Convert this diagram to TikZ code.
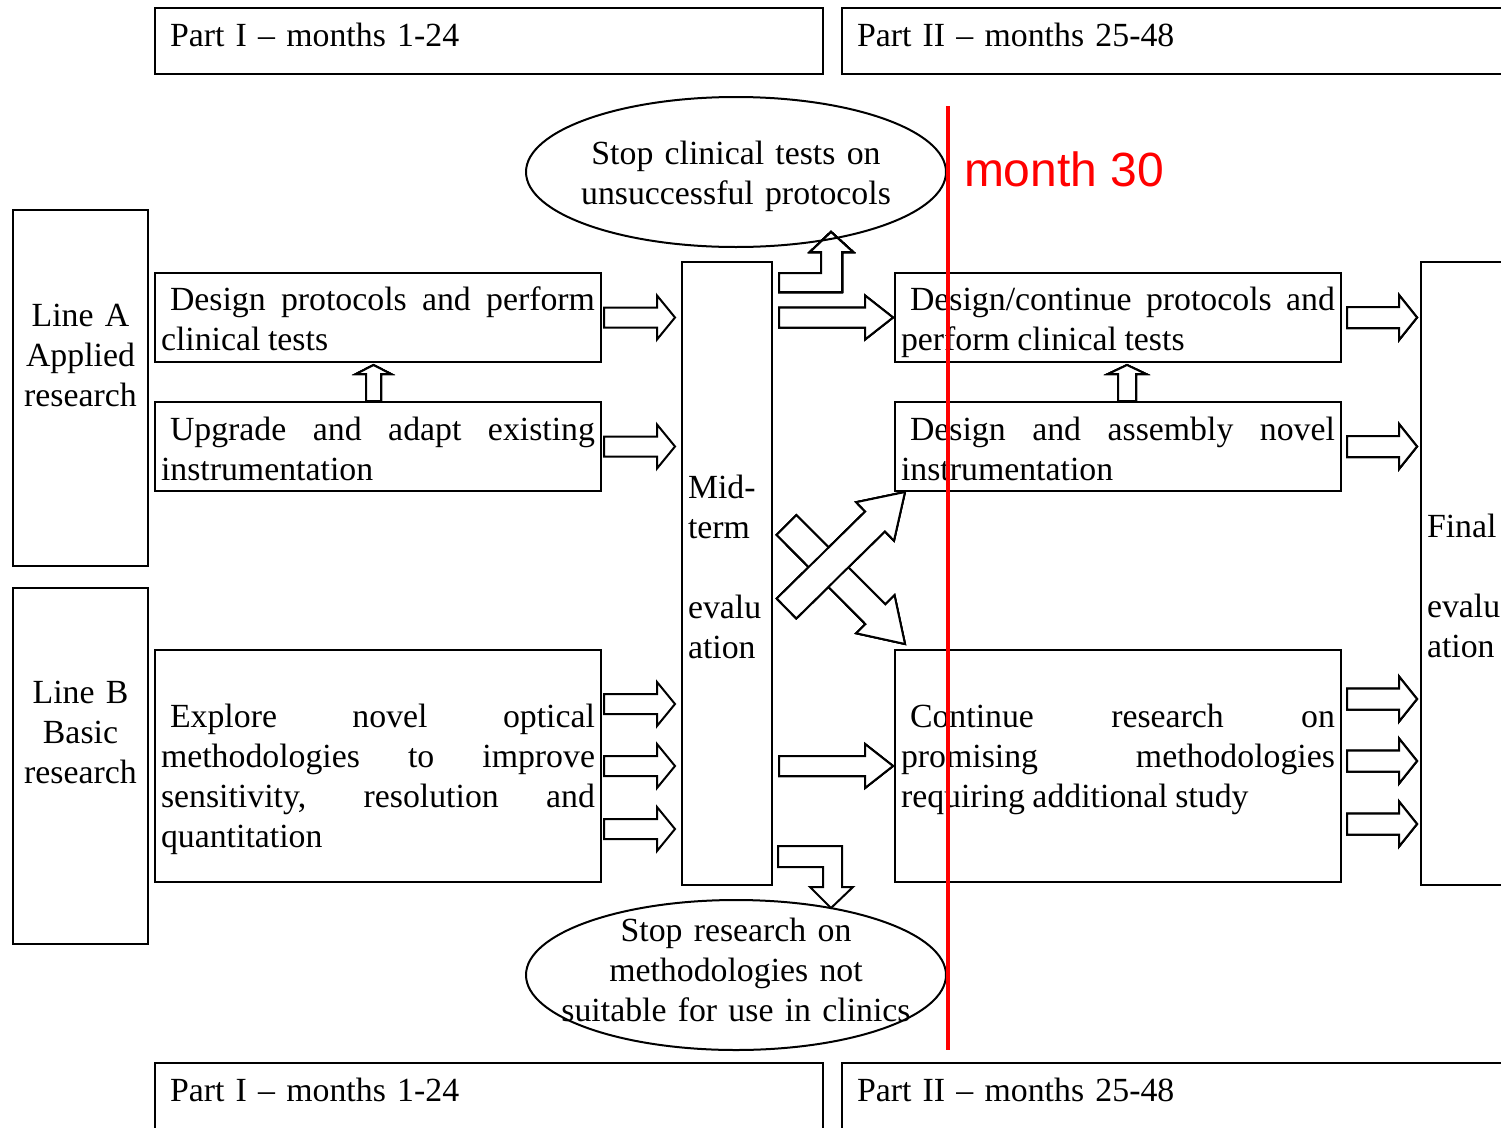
\documentclass[tikz,border=0pt]{standalone}
\usepackage{fontspec}
\setmainfont[WordSpace=0.9]{Liberation Serif}
\newfontfamily\arialfont{Liberation Sans}
\usetikzlibrary{calc}
\usetikzlibrary{shapes.geometric}

% block arrow: from, to, half shaft, half head, head length
\newcommand{\barrow}[5]{%
  \coordinate (ba) at (#1);
  \coordinate (bb) at (#2);
  \coordinate (bh) at ($(bb)!#5pt!(ba)$);
  \draw[blk] ($(ba)!#3pt!90:(bb)$) -- ($(bh)!#3pt!90:(bb)$) -- ($(bh)!#4pt!90:(bb)$) -- (bb)
    -- ($(bh)!#4pt!-90:(bb)$) -- ($(bh)!#3pt!-90:(bb)$) -- ($(ba)!#3pt!-90:(bb)$) -- cycle;
}

\begin{document}
\begin{tikzpicture}[x=1pt,y=-1pt,line width=2pt,
  box/.style={draw,inner xsep=6pt,inner ysep=0pt},
  txt/.style={box,text width=434pt,minimum width=446pt,align=justify,execute at begin node=\hspace*{9pt}},
  part/.style={box,text width=656pt,minimum height=66pt,text depth=13pt,align=left,execute at begin node=\hspace*{9pt}},
  side/.style={box,text width=123pt,align=center,minimum height=356pt},
  evalbox/.style={box,text width=78pt,align=left,minimum height=623pt},
  ell/.style={draw,ellipse,minimum width=420pt,minimum height=150pt,inner sep=0pt},
  lbl/.style={text width=400pt,align=center,inner sep=0pt},
  blk/.style={draw,fill=white,line width=2pt},
  font=\fontsize{33.8}{40}\selectfont]
	\useasboundingbox (0,0) rectangle (1501,1127);
	\draw (489,41) node[part] (P1) {Part I -- months 1-24}
	(1176,41) node[part] (P2) {Part II -- months 25-48};
	\draw (489,1096) node[part] (Q1) {Part I -- months 1-24}
	(1176,1096) node[part] (Q2) {Part II -- months 25-48};
	\draw (80.5,388) node[side,text depth=146pt] (LA) {Line A\\Applied\\research}
	(80.5,766) node[side,text depth=147pt] (LB) {Line B\\Basic\\research};
	\draw (378,317.5) node[txt,minimum height=89pt,text depth=37pt] (A1) {Design protocols and perform\linebreak clinical tests}
	(378,446.5) node[txt,minimum height=89pt,text depth=36pt] (A2) {Upgrade and adapt existing\linebreak instrumentation}
	(378,766) node[txt,minimum height=232pt,text depth=100pt] (B1) {Explore novel optical\linebreak methodologies to improve\linebreak sensitivity, resolution and\linebreak quantitation};
	\draw (727,573.5) node[evalbox,text depth=173pt] (M) {Mid-\\term\\[40pt]evalu\\ation};
	\draw (1118,317.5) node[txt,minimum height=89pt,text depth=37pt] (R1) {Design/continue protocols and\linebreak perform clinical tests}
	(1118,446.5) node[txt,minimum height=89pt,text depth=36pt] (R2) {Design and assembly novel\linebreak instrumentation}
	(1118,766) node[txt,minimum height=232pt,text depth=100pt] (R3) {Continue research on\linebreak promising methodologies\linebreak requiring additional study};
	\draw (1466,573.5) node[evalbox,text depth=95pt] (F) {Final\\[40pt]evalu\\ation};

	\barrow{$(A1.east)+(2,0)$}{$(A1.east -| M.west)+(-6,0)$}{10}{22}{18}
	\barrow{$(A2.east)+(2,0)$}{$(A2.east -| M.west)+(-6,0)$}{10}{22}{18}
	\foreach \dy in {-62,0,63}
		\barrow{$(B1.east)+(2,\dy)$}{$(B1.east -| M.west)+(-6,\dy)$}{10}{22}{18}
	\barrow{$(A2.north west)+(219.5,0)$}{$(A1.south west)+(219.5,2)$}{7.5}{17.5}{9}
	\barrow{$(R2.north west)+(233,0)$}{$(R1.south west)+(233,2)$}{9}{19}{9}
	\barrow{$(M.east |- R1.west)+(6,0)$}{$(R1.west)+(-1,0)$}{10}{22}{28}
	\barrow{$(M.east |- R3.west)+(6,0)$}{$(R3.west)+(-1,0)$}{10}{22}{28}
	\barrow{$(M.east)+(13.5,-48.5)$}{$(R3.north west)+(11,-5)$}{14}{27}{42}
	\barrow{$(M.east)+(13.5,35)$}{$(R2.south west)+(11,0)$}{14}{27}{42}
	\barrow{$(R1.east)+(5,0)$}{$(R1.east -| F.west)+(-3,0)$}{10.5}{22.5}{18}
	\barrow{$(R2.east)+(5,0)$}{$(R2.east -| F.west)+(-3,0)$}{10.5}{22.5}{18}
	\foreach \dy in {-67,-5,58}
		\barrow{$(R3.east)+(5,\dy)$}{$(R3.east -| F.west)+(-3,\dy)$}{10.5}{22.5}{18}
	\draw[blk] ($(M.north east)+(6,12)$) -- ++(42,0) -- ++(0,-21) -- ++(-11,0) -- ++(21,-20) -- ++(22,20) -- ++(-11,0) -- ++(0,40) -- ++(-63,0) -- cycle;
	\draw[blk] ($(M.south east)+(5,-40)$) -- ++(64,0) -- ++(0,41) -- ++(11,0) -- ++(-22,21) -- ++(-21,-21) -- ++(13,0) -- ++(0,-20) -- ++(-45,0) -- cycle;

	\draw (736,172) node[ell,label={[lbl,text depth=38pt]center:Stop clinical tests on\\unsuccessful protocols}] (E1) {}
	(736,975) node[ell,label={[lbl,text depth=90pt]center:Stop research on\\methodologies not\\suitable for use in clinics}] (E2) {};

	\draw[red,line width=3.5pt] (948,106) coordinate (T30) -- (948,1050) coordinate (B30);
	\node[red,anchor=base west,inner sep=0pt,font=\arialfont\fontsize{48}{55}\selectfont] (M30) at (963,186) {month 30};
\end{tikzpicture}
\end{document}
